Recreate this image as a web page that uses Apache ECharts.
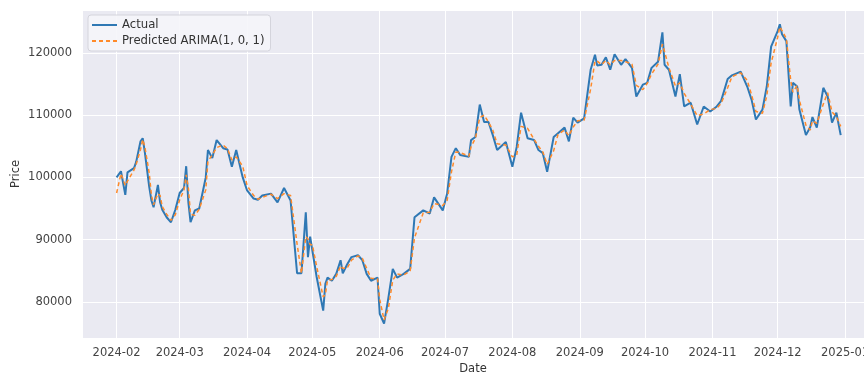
<!DOCTYPE html>
<html>
<head>
<meta charset="utf-8">
<script src="https://cdn.jsdelivr.net/npm/echarts@6/dist/echarts.min.js"></script>
<style>
html,body{margin:0;padding:0;background:#fff;}
#chart{width:864px;height:374px;}
</style>
</head>
<body>
<div id="chart"></div>
<script>
const dates = [
 '2024-02-01','2024-02-03','2024-02-05','2024-02-06','2024-02-09','2024-02-10','2024-02-12','2024-02-13','2024-02-14','2024-02-16',
 '2024-02-17','2024-02-18','2024-02-20','2024-02-21','2024-02-22','2024-02-24','2024-02-26','2024-02-28','2024-03-01','2024-03-03',
 '2024-03-04','2024-03-05','2024-03-06','2024-03-08','2024-03-10','2024-03-13','2024-03-14','2024-03-16','2024-03-18','2024-03-21',
 '2024-03-23','2024-03-25','2024-03-27','2024-03-30','2024-04-01','2024-04-04','2024-04-06','2024-04-08','2024-04-12','2024-04-15',
 '2024-04-18','2024-04-21','2024-04-24','2024-04-26','2024-04-28','2024-04-29','2024-04-30','2024-05-01','2024-05-03','2024-05-06',
 '2024-05-07','2024-05-08','2024-05-10','2024-05-12','2024-05-14','2024-05-15','2024-05-17','2024-05-19','2024-05-22','2024-05-24',
 '2024-05-26','2024-05-28','2024-05-31','2024-06-01','2024-06-03','2024-06-05','2024-06-07','2024-06-09','2024-06-12','2024-06-15',
 '2024-06-17','2024-06-21','2024-06-24','2024-06-26','2024-06-30','2024-07-02','2024-07-04','2024-07-06','2024-07-08','2024-07-12',
 '2024-07-13','2024-07-15','2024-07-17','2024-07-19','2024-07-21','2024-07-23','2024-07-25','2024-07-29','2024-08-01','2024-08-03',
 '2024-08-05','2024-08-08','2024-08-11','2024-08-13','2024-08-15','2024-08-17','2024-08-20','2024-08-22','2024-08-25','2024-08-27',
 '2024-08-29','2024-08-31','2024-09-03','2024-09-06','2024-09-08','2024-09-09','2024-09-11','2024-09-13','2024-09-15','2024-09-17',
 '2024-09-20','2024-09-22','2024-09-25','2024-09-27','2024-09-30','2024-10-02','2024-10-04','2024-10-07','2024-10-09','2024-10-10',
 '2024-10-12','2024-10-15','2024-10-17','2024-10-19','2024-10-22','2024-10-25','2024-10-28','2024-10-31','2024-11-03','2024-11-05',
 '2024-11-08','2024-11-10','2024-11-14','2024-11-17','2024-11-19','2024-11-21','2024-11-24','2024-11-26','2024-11-28','2024-12-01',
 '2024-12-02','2024-12-03','2024-12-05','2024-12-07','2024-12-08','2024-12-10','2024-12-11','2024-12-14','2024-12-16','2024-12-17',
 '2024-12-19','2024-12-22','2024-12-24','2024-12-26','2024-12-28','2024-12-30'
];
const actual = [
 100000,101000,97200,100800,101500,102500,105800,106300,104000,98500,
 96300,95200,98800,96000,94800,93600,92800,94800,97500,98300,
 101800,96000,92800,94700,95000,100000,104400,103100,106000,104700,
 104500,101700,104400,100000,97900,96600,96400,97100,97400,96000,
 98300,96300,84600,84600,94400,87200,90500,88300,84000,78600,
 82900,83900,83400,84500,86700,84600,86000,87200,87500,86700,
 84500,83400,83900,78100,76500,80700,85300,83900,84500,85300,
 93600,94700,94200,96800,94700,97400,103300,104700,103600,103300,
 106000,106500,111700,108900,108900,106800,104400,105700,101700,104900,
 110400,106300,106000,104400,103900,100900,106500,107100,108000,105800,
 109600,108800,109500,117300,119700,118000,118100,119300,117300,119800,
 118100,119000,117600,113000,114900,115200,117600,118600,123300,118100,
 117300,113000,116600,111400,112000,108500,111400,110600,111400,112300,
 115800,116400,117000,114600,112500,109300,110900,114600,121000,123500,
 124600,123000,121900,111400,115200,114600,110900,106800,108100,109700,
 108000,114400,113000,108800,110400,106800
];
const predicted = [
 97500,100600,98700,99400,101200,102100,104500,106100,104900,100700,
 97200,95600,97400,97100,95300,94100,93100,94000,96400,98000,
 100400,98300,94100,93900,94900,98000,102600,103600,104800,105200,
 104600,102800,103300,101800,98700,97100,96500,96800,97300,96600,
 97400,97100,89300,84600,90500,90100,89200,89200,85700,80800,
 81200,83500,83600,84100,85800,85400,85400,86700,87400,87000,
 85400,83800,83700,80400,77100,79000,83500,84500,84300,85000,
 90300,94300,94400,95800,95500,96300,100900,104100,104000,103400,
 104900,106300,109600,110000,108900,107600,105400,105200,103300,103600,
 108200,107900,106100,105000,104100,102100,104300,106900,107600,106700,
 108100,109100,109200,114200,118700,118700,118100,118800,118100,118800,
 118800,118600,118200,114800,114100,115100,116600,118200,121400,120200,
 117600,114700,115200,113500,111800,109900,110200,110900,111100,111900,
 114400,116200,116800,115600,113300,110600,110300,113100,118400,122500,
 124200,123600,122300,115600,113700,114800,112400,108400,107600,109100,
 108700,111800,113600,110500,109800,108200
];
const yTicks = [80000, 90000, 100000, 110000, 120000];
const xRange = ['2024-01-16T02:00:00', '2025-01-09T17:00:00'];

const toTime = s => new Date(s.length === 10 ? s + 'T00:00:00' : s).getTime();
const actualData = dates.map((d, i) => [toTime(d), actual[i]]);
const predData = dates.map((d, i) => [toTime(d), predicted[i]]);

const font = 'DejaVu Sans';
const blue = '#2f78b4';
const orange = '#ff8a2a';
const chart = echarts.init(document.getElementById('chart'), null, {renderer: 'canvas'});
chart.setOption({
  animation: false,
  backgroundColor: '#ffffff',
  grid: {left: 82, top: 10, right: 0, bottom: 36, containLabel: false, outerBoundsMode: 'none',
         show: true, backgroundColor: '#EAEAF2', borderWidth: 0},
  legend: {
    left: 88, top: 15, orient: 'vertical',
    itemWidth: 25, itemHeight: 2, itemGap: 4,
    padding: [4, 6, 4, 4],
    backgroundColor: 'rgba(245,245,249,0.9)', borderColor: '#d4d4dc', borderWidth: 1, borderRadius: 3,
    textStyle: {fontFamily: font, fontSize: 11.7, color: '#333'},
    data: [
      {name: 'Actual', icon: 'path://M0,0h25v2h-25z'},
      {name: 'Predicted ARIMA(1, 0, 1)', icon: 'path://M0,0h4v2h-4z M7,0h4v2h-4z M14,0h4v2h-4z M21,0h4v2h-4z'}
    ]
  },
  xAxis: {
    type: 'time',
    min: toTime(xRange[0]), max: toTime(xRange[1]),
    splitNumber: 12,
    name: 'Date', nameLocation: 'middle', nameGap: 25, nameMoveOverlap: false,
    nameTextStyle: {fontFamily: font, fontSize: 11.5, color: '#333'},
    axisLine: {show: false}, axisTick: {show: false},
    axisLabel: {formatter: '{yyyy}-{MM}', fontFamily: font, fontSize: 11.5, color: '#444', margin: 9, hideOverlap: false},
    splitLine: {show: true, lineStyle: {color: '#ffffff', width: 1}}
  },
  yAxis: {
    type: 'value', min: 74200, max: 126900, splitNumber: 5,
    name: 'Price', nameLocation: 'middle', nameGap: 60, nameRotate: 90, nameMoveOverlap: false,
    nameTextStyle: {fontFamily: font, fontSize: 11.5, color: '#333'},
    axisLine: {show: false}, axisTick: {show: false},
    axisLabel: {fontFamily: font, fontSize: 11.5, color: '#444', margin: 10,
      showMinLabel: false, showMaxLabel: false,
      formatter: v => yTicks.indexOf(v) >= 0 ? String(v) : ''},
    splitLine: {show: true, lineStyle: {color: '#ffffff', width: 1}}
  },
  series: [
    {name: 'Actual', type: 'line', data: actualData, symbol: 'none', z: 2,
     lineStyle: {color: blue, width: 2}, itemStyle: {color: blue}},
    {name: 'Predicted ARIMA(1, 0, 1)', type: 'line', data: predData, symbol: 'none', z: 3,
     lineStyle: {color: orange, width: 1.5, type: [4, 3]}, itemStyle: {color: orange}}
  ]
});
</script>
</body>
</html>
